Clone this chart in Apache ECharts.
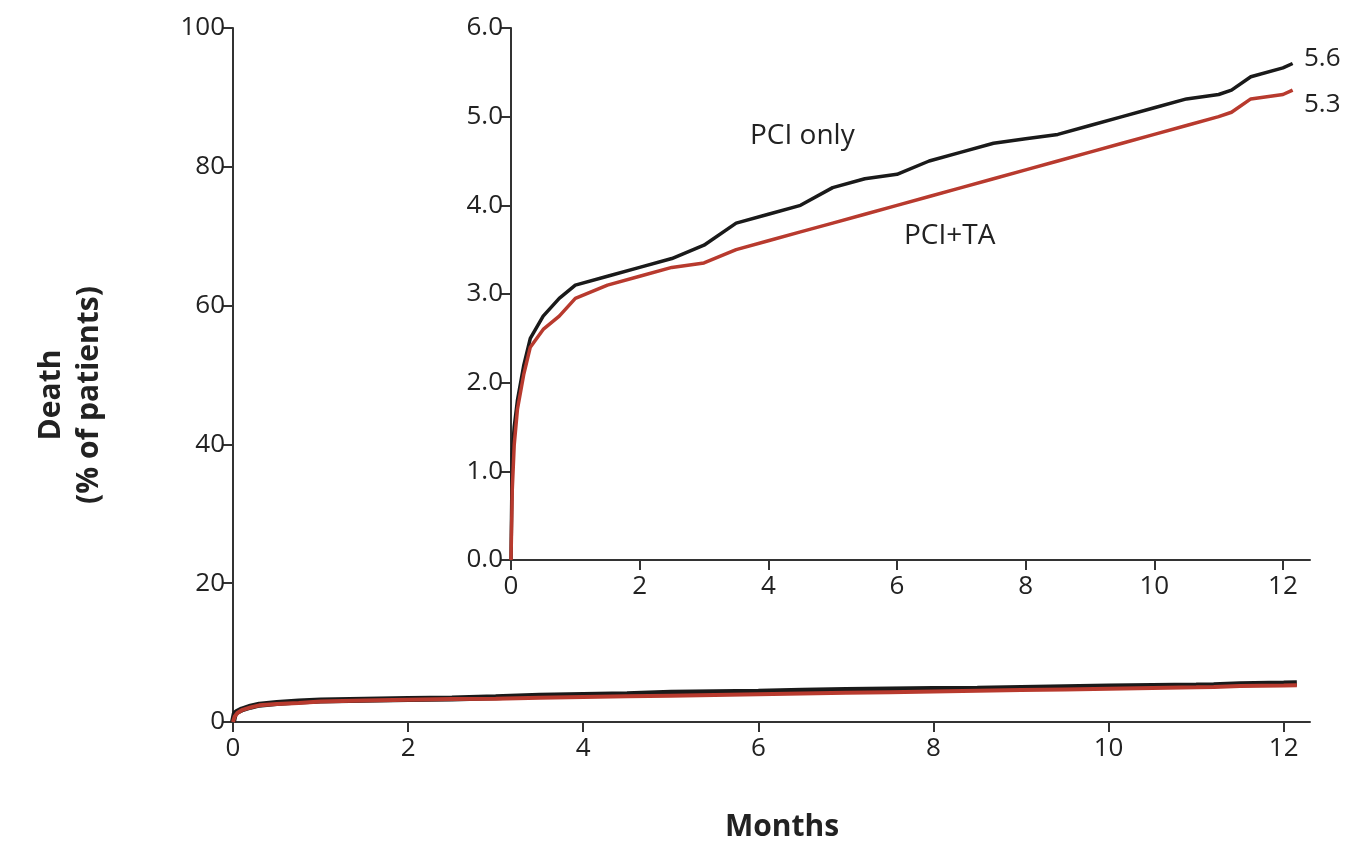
<!DOCTYPE html>
<html>
<head>
<meta charset="utf-8">
<script src="https://cdn.jsdelivr.net/npm/echarts@6/dist/echarts.min.js"></script>
<style>html,body{margin:0;padding:0;background:#fff}#chart{width:1370px;height:855px}</style>
</head>
<body>
<div id="chart"></div>
<script>
// Kaplan-Meier style cumulative death (% of patients), months
var months = [0, 0.02, 0.05, 0.1, 0.2, 0.3, 0.5, 0.75, 1, 1.5, 2, 2.5, 3, 3.5, 4, 4.5, 5, 5.5, 6, 6.5, 7, 7.5, 8, 8.5, 9, 9.5, 10, 10.5, 11, 11.2, 11.5, 12, 12.15]
var pciOnly = [0, 1.2, 1.5, 1.8, 2.2, 2.5, 2.75, 2.95, 3.1, 3.2, 3.3, 3.4, 3.55, 3.8, 3.9, 4.0, 4.2, 4.3, 4.35, 4.5, 4.6, 4.7, 4.75, 4.8, 4.9, 5.0, 5.1, 5.2, 5.25, 5.3, 5.45, 5.55, 5.6]
var pciTa = [0, 0.8, 1.3, 1.7, 2.1, 2.4, 2.6, 2.75, 2.95, 3.1, 3.2, 3.3, 3.35, 3.5, 3.6, 3.7, 3.8, 3.9, 4.0, 4.1, 4.2, 4.3, 4.4, 4.5, 4.6, 4.7, 4.8, 4.9, 5.0, 5.05, 5.2, 5.25, 5.3]
var mainYTicks = [0, 20, 40, 60, 80, 100]
var insetYTicks = [0, 1, 2, 3, 4, 5, 6]

var black = '#1a1a1a'
var red = '#b83a2e'
var font = 'Open Sans'

function pairs(ys) {
  return months.map(function (m, i) { return [m, ys[i]] })
}

function xAxis(gridIndex, max) {
  return {
    gridIndex: gridIndex, type: 'value', min: 0, max: max, interval: 2,
    axisLine: { lineStyle: { color: '#333', width: 2 } },
    axisTick: { length: 10, lineStyle: { color: '#333', width: 2 }, customValues: [0, 2, 4, 6, 8, 10, 12] },
    axisLabel: { fontSize: 26, color: '#222', fontFamily: font, margin: 14, customValues: [0, 2, 4, 6, 8, 10, 12] },
    splitLine: { show: false }
  }
}

function yAxis(gridIndex, max, interval, digits) {
  return {
    gridIndex: gridIndex, type: 'value', min: 0, max: max, interval: interval,
    axisLine: { show: true, lineStyle: { color: '#333', width: 2 } },
    axisTick: { show: true, length: 10, lineStyle: { color: '#333', width: 2 } },
    axisLabel: { fontSize: 26, color: '#222', fontFamily: font, margin: 8,
      formatter: function (v) { return v.toFixed(digits) } },
    splitLine: { show: false }
  }
}

var chart = echarts.init(document.getElementById('chart'))
chart.setOption({
  animation: false,
  grid: [
    { left: 233, top: 28, width: 1077, bottom: 133 },
    { left: 511, top: 28, width: 799, bottom: 295 }
  ],
  xAxis: [xAxis(0, 12.3), xAxis(1, 12.42)],
  yAxis: [yAxis(0, 100, 20, 0), yAxis(1, 6, 1, 1)],
  series: [
    { type: 'line', xAxisIndex: 0, yAxisIndex: 0, showSymbol: false, data: pairs(pciOnly), lineStyle: { color: black, width: 6 } },
    { type: 'line', xAxisIndex: 0, yAxisIndex: 0, showSymbol: false, data: pairs(pciTa), lineStyle: { color: red, width: 4 } },
    { type: 'line', xAxisIndex: 1, yAxisIndex: 1, showSymbol: false, data: pairs(pciOnly), lineStyle: { color: black, width: 3.5 } },
    { type: 'line', xAxisIndex: 1, yAxisIndex: 1, showSymbol: false, data: pairs(pciTa), lineStyle: { color: red, width: 3.5 } }
  ],
  graphic: [
    { type: 'text', left: 750, top: 122, style: { text: 'PCI only', fontSize: 28, fontFamily: font, fill: '#222' } },
    { type: 'text', left: 904, top: 222, style: { text: 'PCI+TA', fontSize: 28, fontFamily: font, fill: '#222' } },
    { type: 'text', left: 1304, top: 46, style: { text: '5.6', fontSize: 26, fontFamily: font, fill: '#222' } },
    { type: 'text', left: 1304, top: 92, style: { text: '5.3', fontSize: 26, fontFamily: font, fill: '#222' } },
    { type: 'text', left: 725, top: 812, style: { text: 'Months', fontSize: 30, fontWeight: 'bold', fontFamily: font, fill: '#222' } },
    { type: 'text', x: 70, y: 395, rotation: Math.PI / 2, style: { text: 'Death\n(% of patients)', fontSize: 30, lineHeight: 38, fontWeight: 'bold', fontFamily: font, fill: '#222', align: 'center', verticalAlign: 'middle' } }
  ]
})
</script>
</body>
</html>
